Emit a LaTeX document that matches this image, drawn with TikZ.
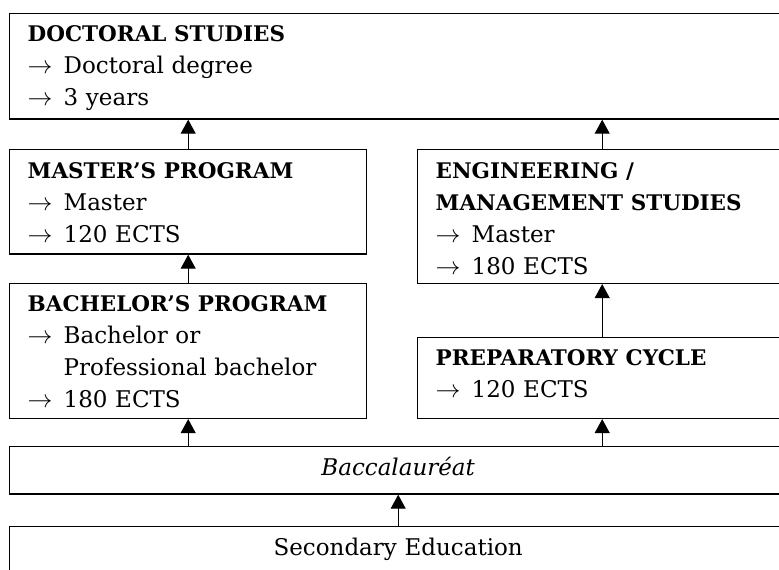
\documentclass[tikz,border=0pt]{standalone}
\usepackage{fontspec}
\setmainfont{DejaVu Serif}
\usetikzlibrary{arrows.meta}
\newcommand{\itemarr}{\makebox[36pt][l]{$\rightarrow$}}
\newcommand{\head}[1]{{\fontsize{21.5}{32}\selectfont\bfseries #1}}
\tikzset{
	box/.style={draw, line width=1.4pt, anchor=north west, align=left,
		inner xsep=18pt, inner ysep=0pt, text height=28.5pt,
		font=\fontsize{23}{32}\selectfont},
	up/.style={->, line width=1pt}
}
\begin{document}
\begin{tikzpicture}[x=1pt, y=-1pt, >={Triangle[length=14pt,width=15pt]}]
	\path[use as bounding box, clip] (0,0) rectangle (779,570);
	% top
	\node[box, text width=741pt, text depth=77.1pt] (doc) at (9,12.7) {\head{DOCTORAL STUDIES}\\\itemarr Doctoral degree\\\itemarr 3 years};
	% left column
	\node[box, text width=321pt, text depth=75.8pt] (master) at (9,149) {\head{MASTER’S PROGRAM}\\\itemarr Master\\\itemarr 120 ECTS};
	\node[box, text width=321pt, text depth=106.5pt] (bach) at (9,282.7) {\head{BACHELOR’S PROGRAM}\\\itemarr Bachelor or\\\hspace*{36pt}Professional bachelor\\\itemarr 180 ECTS};
	% right column
	\node[box, text width=333pt, text depth=105.2pt] (eng) at (417,149) {\head{ENGINEERING /}\\\head{MANAGEMENT STUDIES}\\\itemarr Master\\\itemarr 180 ECTS};
	\node[box, text width=333pt, text depth=52.5pt] (prep) at (417,336.7) {\head{PREPARATORY CYCLE}\\\itemarr 120 ECTS};
	% bottom
	\node[box, align=center, text width=741pt, text height=29pt, text depth=18.8pt] (bacc) at (9,445.5) {\textit{Baccalauréat}};
	\node[box, align=center, text width=741pt, text height=29pt, text depth=19pt] (sec) at (9,526) {Secondary Education};
	% arrows
	\draw[up] (sec.north) -- (bacc.south);
	\draw[up] (bacc.north -| bach.south) -- (bach.south);
	\draw[up] (bacc.north -| prep.south) -- (prep.south);
	\draw[up] (bach.north) -- (master.south);
	\draw[up] (prep.north) -- (eng.south);
	\draw[up] (master.north) -- (master.north |- doc.south);
	\draw[up] (eng.north) -- (eng.north |- doc.south);
\end{tikzpicture}
\end{document}
